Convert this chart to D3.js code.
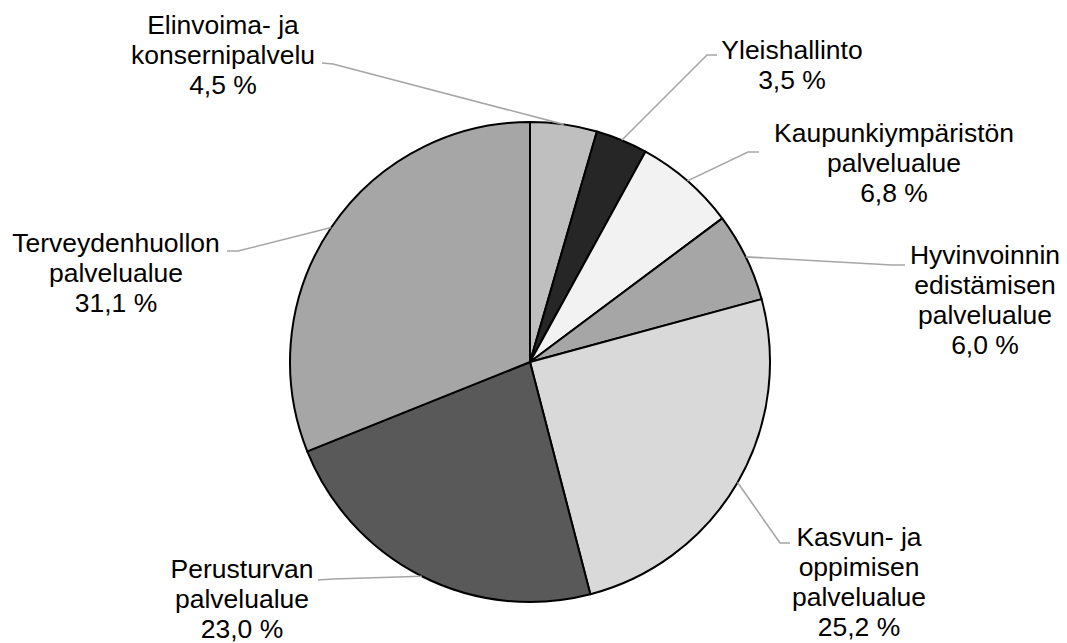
<!DOCTYPE html>
<html>
<head>
<meta charset="utf-8">
<script src="https://cdn.jsdelivr.net/npm/d3@7/dist/d3.min.js"></script>
<style>
  body { margin: 0; background: #fff; }
  svg { display: block; }
  .lbl { font-family: "Liberation Sans", Arial, sans-serif; font-size: 25px; fill: #000; }
</style>
</head>
<body>
<div id="chart"></div>
<script>
// slice data, clockwise from 12 o'clock
const categories = [
  ["Elinvoima- ja", "konsernipalvelu"],
  ["Yleishallinto"],
  ["Kaupunkiympäristön", "palvelualue"],
  ["Hyvinvoinnin", "edistämisen", "palvelualue"],
  ["Kasvun- ja", "oppimisen", "palvelualue"],
  ["Perusturvan", "palvelualue"],
  ["Terveydenhuollon", "palvelualue"]
];
const values = [4.5, 3.5, 6.8, 6.0, 25.2, 23.0, 31.1];
const fills = ["#bfbfbf", "#262626", "#f2f2f2", "#a6a6a6", "#d9d9d9", "#595959", "#a6a6a6"];

// label placement: text centre x, first line centre y, leader start, elbow
const labelPos = [
  {x: 223, y: 25, p0: [322, 63], p1: [333, 64]},
  {x: 792, y: 50, p0: [717, 55], p1: [707, 55]},
  {x: 894, y: 133, p0: [759, 152], p1: [748, 152]},
  {x: 985, y: 255, p0: [905, 265], p1: [892, 265]},
  {x: 859, y: 537, p0: [790, 543], p1: [780, 543]},
  {x: 242, y: 569, p0: [318, 580], p1: [333, 579]},
  {x: 116, y: 243, p0: [227, 251], p1: [238, 251]}
];

const width = 1067, height = 643;
const cx = 530, cy = 362, radius = 240;
const lineH = 30;

const svg = d3.select("#chart").append("svg")
    .attr("width", width)
    .attr("height", height);

const pie = d3.pie().sort(null).value(d => d);
const arcs = pie(values);
const arc = d3.arc().innerRadius(0).outerRadius(radius);
const edge = d3.arc().innerRadius(radius).outerRadius(radius);

const g = svg.append("g").attr("transform", `translate(${cx},${cy})`);

// leader lines (under the slices so they end at the rim)
svg.append("g").selectAll("polyline")
    .data(arcs)
    .join("polyline")
    .attr("fill", "none")
    .attr("stroke", "#a6a6a6")
    .attr("stroke-width", 1.6)
    .attr("points", (d, i) => {
        const lp = labelPos[i];
        const c = edge.centroid(d);
        return [lp.p0, lp.p1, [cx + c[0], cy + c[1]]].map(p => p.join(",")).join(" ");
    });

g.selectAll("path")
    .data(arcs)
    .join("path")
    .attr("d", arc)
    .attr("fill", (d, i) => fills[i])
    .attr("stroke", "#000")
    .attr("stroke-width", 2)
    .attr("stroke-linejoin", "round");

// labels (original text is slightly wide, so stretch a bit horizontally)
const fmt = v => d3.format(".1f")(v).replace(".", ",") + " %";
const labels = svg.append("g").selectAll("text")
    .data(arcs)
    .join("text")
    .attr("class", "lbl")
    .attr("text-anchor", "middle")
    .attr("transform", (d, i) => `translate(${labelPos[i].x},0) scale(1.06,1)`);

labels.each(function(d, i) {
    const lines = categories[i].concat([fmt(values[i])]);
    const lp = labelPos[i];
    d3.select(this).selectAll("tspan")
        .data(lines)
        .join("tspan")
        .attr("x", 0)
        .attr("y", (t, j) => lp.y + j * lineH)
        .attr("dy", "0.35em")
        .text(t => t);
});
</script>
</body>
</html>
